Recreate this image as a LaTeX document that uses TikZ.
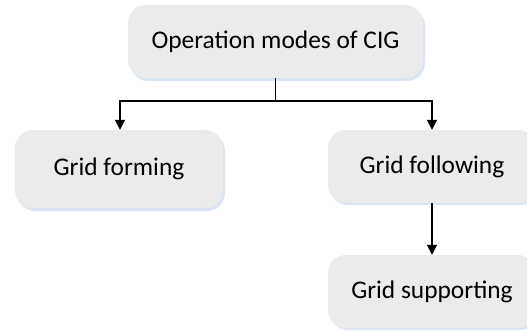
\documentclass[tikz,border=0pt]{standalone}
\usepackage{fontspec}
\setmainfont{Carlito}
\usetikzlibrary{arrows.meta}
\definecolor{boxfill}{HTML}{EBEBEB}
\definecolor{glow}{HTML}{D9E5F3}
\begin{document}
\begin{tikzpicture}[x=1bp,y=-1bp,
  modebox/.style={fill=boxfill, draw=none, rounded corners=18bp,
    minimum height=73bp, font=\fontsize{25.5}{28}\selectfont, inner sep=0pt},
  glowbox/.style={fill=glow, draw=none, rounded corners=18bp},
  link/.style={line width=1.5bp, -{Triangle[length=10bp,width=10bp]}}]
\useasboundingbox (0,0) rectangle (527,331);
\clip (0,0) rectangle (527,331);
% soft shadow plates under the boxes
\fill[glowbox] (130,8) rectangle (425,81);
\fill[glowbox] (17,133) rectangle (225,211);
\fill[glowbox] (330,133) rectangle (538,205);
\fill[glowbox] (330,258) rectangle (538,330);
% the mode boxes
\node[modebox, minimum width=295bp] (top) at (275.5,41.5) {Operation modes of CIG};
\node[modebox, minimum width=208bp, minimum height=78bp] (form) at (119,169) {Grid forming};
\node[modebox, minimum width=208bp, minimum height=73bp] (follow) at (432,166.5) {Grid following};
\node[modebox, minimum width=208bp, minimum height=73bp] (support) at (432,291.5) {Grid supporting};
% connectors
\coordinate (split) at (top.south |- 0,101);
\draw[line width=1.5bp] (top.south) -- (split);
\draw[link] (split) -| ([xshift=1bp]form.north);
\draw[link] (split) -| (follow.north);
\draw[link] (follow.south) -- (support.north);
\end{tikzpicture}
\end{document}
